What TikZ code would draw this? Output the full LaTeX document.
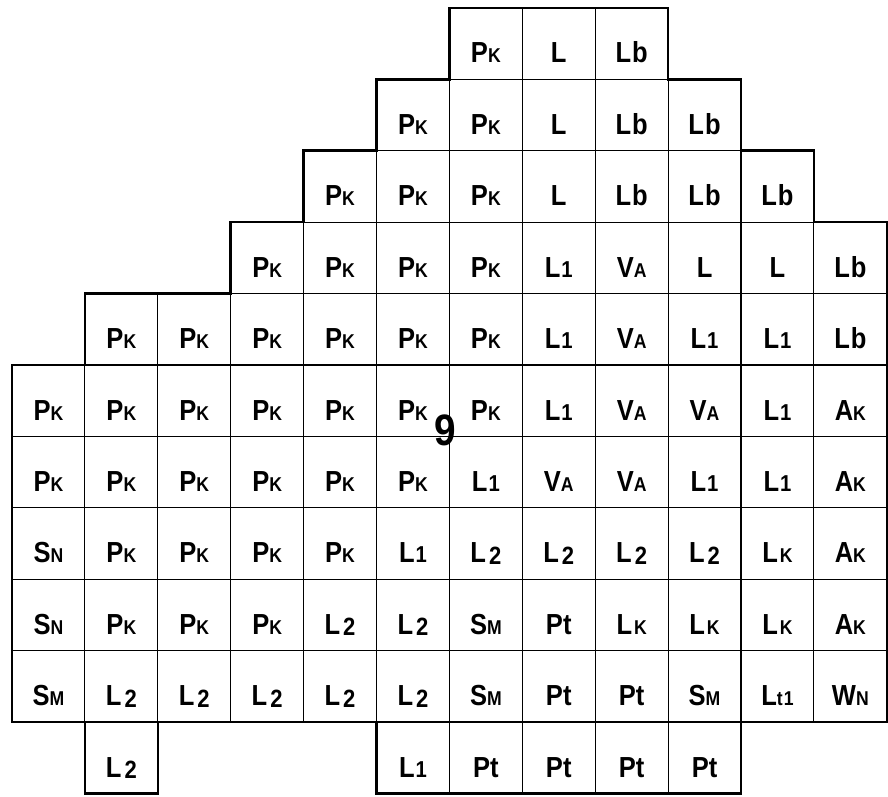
\documentclass[tikz,border=0pt]{standalone}
\usepackage{fontspec}
\newfontfamily\cellfont{Liberation Sans}[FakeStretch=0.88]
\newcommand\sml[1]{{\fontsize{20}{20}\selectfont #1}}
\newcommand\smd[1]{{\fontsize{23}{23}\selectfont #1}}
\newcommand\cPK{P\sml{K}}
\newcommand\cL{L}
\newcommand\cLb{L\kern1pt b}
\newcommand\cLone{L\kern1pt\smd{1}}
\newcommand\cLtwo{L\kern3pt\raisebox{-1.5pt}{\fontsize{25}{25}\selectfont 2}}
\newcommand\cVA{V\sml{A}}
\newcommand\cAK{A\sml{K}}
\newcommand\cSN{S\sml{N}}
\newcommand\cSM{S\sml{M}}
\newcommand\cLK{L\kern2pt\sml{K}}
\newcommand\cPt{Pt}
\newcommand\cLtone{L\sml{t\kern1pt1}}
\newcommand\cWN{W\sml{N}}
\tikzset{
  cell/.style={draw, line width=1.1pt, rectangle, minimum width=72.9pt,
    minimum height=71.4pt, inner sep=0pt, outer sep=0pt,
    text height=55pt, text depth=16.4pt,
    font=\cellfont\bfseries\fontsize{29}{29}\selectfont},
  rim/.style={line width=2.6pt, line join=miter},
  bignum/.style={inner sep=0pt, font=\cellfont\bfseries\fontsize{44}{44}\selectfont}
}
\newcommand\cellrow[3]{%
  \foreach \t [count=\i from #2] in {#3} {
    \node[cell] (c#1-\i) at ({12+72.9*(\i+0.5)},{788-71.4*(#1+0.5)}) {\t};
  }}
\begin{document}
\begin{tikzpicture}[x=1pt,y=1pt]
\fill[white] (0,0) rectangle (888,796);
\useasboundingbox (0,0) rectangle (888,796);
\cellrow{0}{6}{\cPK,\cL,\cLb}
\cellrow{1}{5}{\cPK,\cPK,\cL,\cLb,\cLb}
\cellrow{2}{4}{\cPK,\cPK,\cPK,\cL,\cLb,\cLb,\cLb}
\cellrow{3}{3}{\cPK,\cPK,\cPK,\cPK,\cLone,\cVA,\cL,\cL,\cLb}
\cellrow{4}{1}{\cPK,\cPK,\cPK,\cPK,\cPK,\cPK,\cLone,\cVA,\cLone,\cLone,\cLb}
\cellrow{5}{0}{\cPK,\cPK,\cPK,\cPK,\cPK,\cPK,\cPK,\cLone,\cVA,\cVA,\cLone,\cAK}
\cellrow{6}{0}{\cPK,\cPK,\cPK,\cPK,\cPK,\cPK,\cLone,\cVA,\cVA,\cLone,\cLone,\cAK}
\cellrow{7}{0}{\cSN,\cPK,\cPK,\cPK,\cPK,\cLone,\cLtwo,\cLtwo,\cLtwo,\cLtwo,\cLK,\cAK}
\cellrow{8}{0}{\cSN,\cPK,\cPK,\cPK,\cLtwo,\cLtwo,\cSM,\cPt,\cLK,\cLK,\cLK,\cAK}
\cellrow{9}{0}{\cSM,\cLtwo,\cLtwo,\cLtwo,\cLtwo,\cLtwo,\cSM,\cPt,\cPt,\cSM,\cLtone,\cWN}
\cellrow{10}{1}{\cLtwo}
\cellrow{10}{5}{\cLone,\cPt,\cPt,\cPt,\cPt}
\draw[rim] (c0-6.north west) -- (c0-8.north east) -- (c0-8.south east)
  -- (c1-9.north east) -- (c1-9.south east) -- (c2-10.north east)
  -- (c2-10.south east) -- (c3-11.north east) -- (c9-11.south east)
  -- (c9-10.south west) -- (c10-9.south east) -- (c10-5.south west)
  -- (c10-5.north west) -- (c10-1.north east) -- (c10-1.south east)
  -- (c10-1.south west) -- (c10-1.north west) -- (c9-0.south west)
  -- (c5-0.north west) -- (c5-0.north east) -- (c4-1.north west)
  -- (c4-2.north east) -- (c3-3.north west) -- (c3-3.north east)
  -- (c2-4.north west) -- (c2-4.north east) -- (c1-5.north west)
  -- (c1-5.north east) -- cycle;
\node[bignum] (nine) at (445,366) {9};
\end{tikzpicture}
\end{document}
